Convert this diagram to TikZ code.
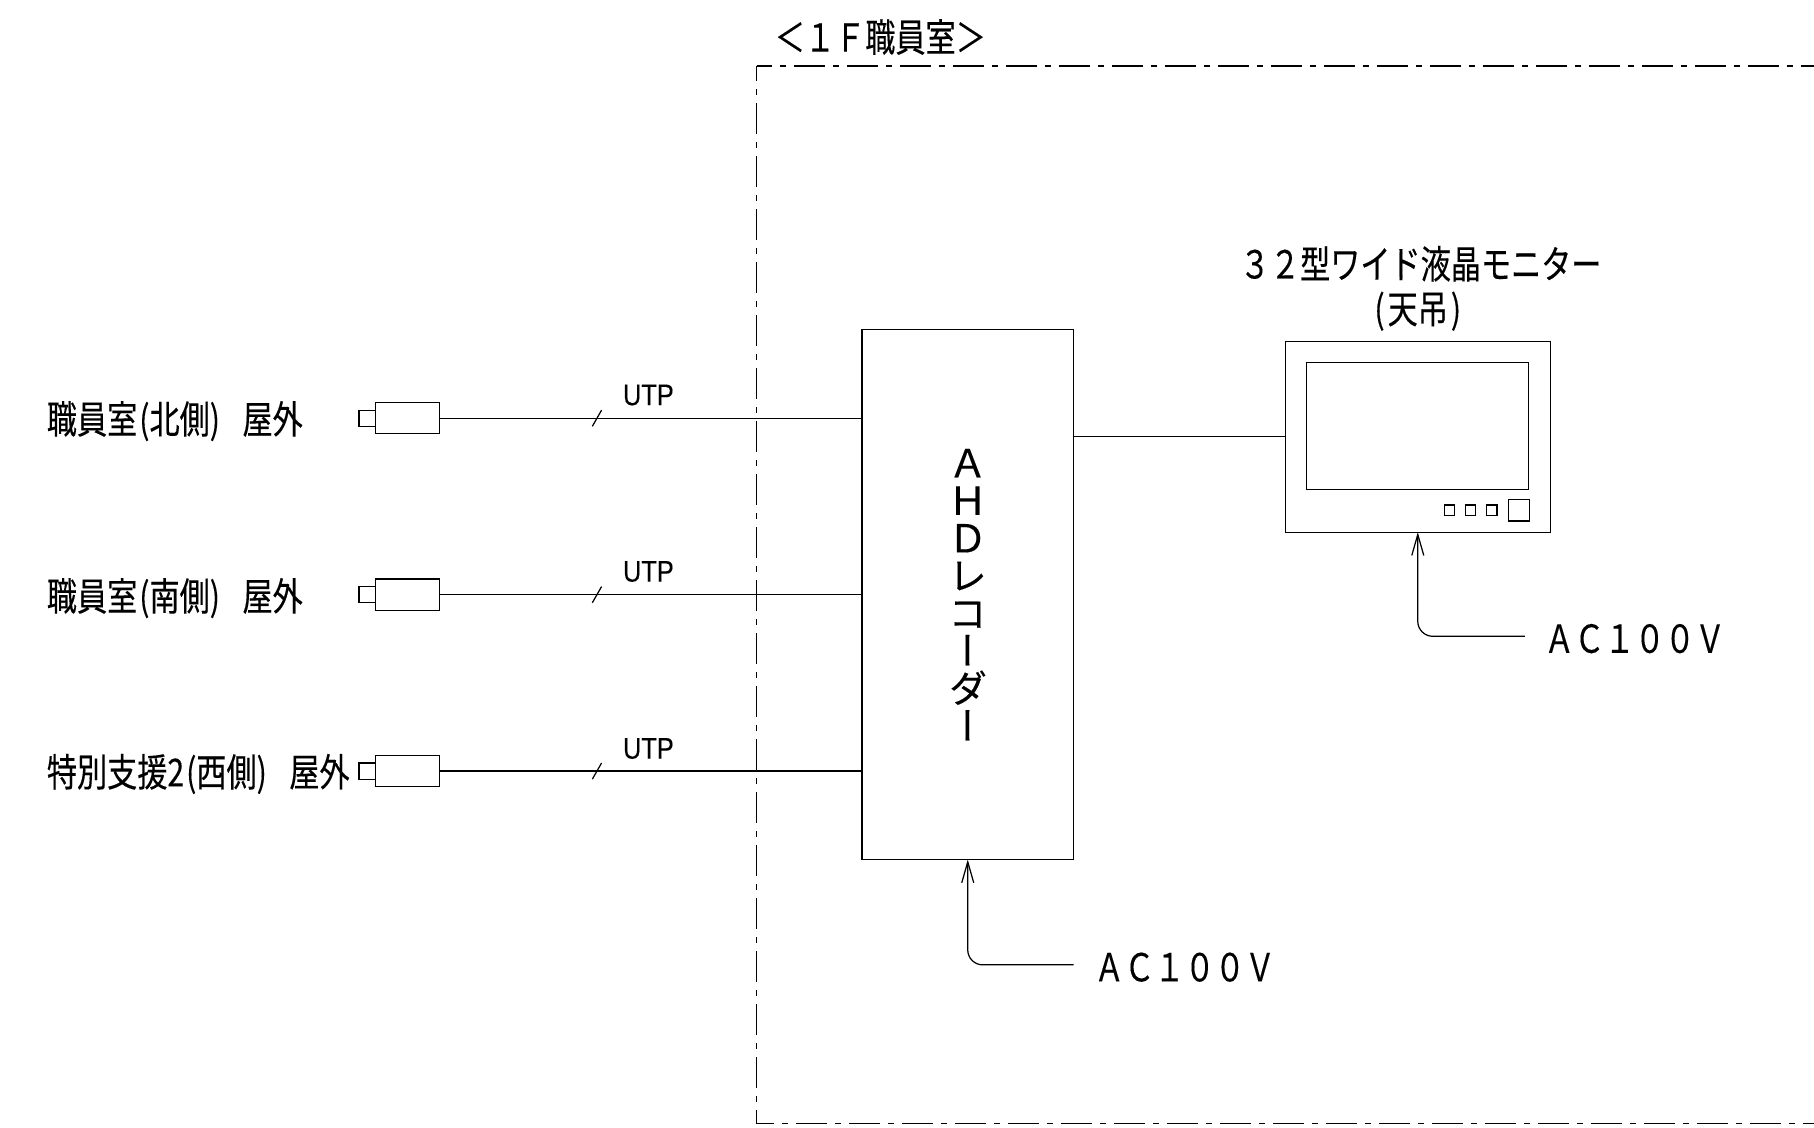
\documentclass[tikz,border=0pt]{standalone}
\usepackage{fontspec}
\usetikzlibrary{arrows.meta}
\newfontfamily\cjk[FakeStretch=0.78,FakeBold=0.25]{Noto Sans CJK JP}
\newfontfamily\cjkvert[RawFeature={+vert},FakeBold=0.25]{Noto Sans CJK JP}
\newfontfamily\utpfont[FakeStretch=0.85,FakeBold=0.15]{Liberation Sans}

\begin{document}
\begin{tikzpicture}[x=0.02314cm,y=-0.02314cm,line width=0.7pt,node distance=3.53cm,
    >={Straight Barb[length=0.42cm,width=0.24cm]},
    main node/.style={draw,rectangle,inner sep=0pt,outer sep=0pt},
    cam body/.style={main node,fill=white,minimum width=1.285cm,minimum height=0.625cm},
    cam lens/.style={main node,minimum width=0.324cm,minimum height=0.324cm},
    small btn/.style={main node,minimum width=0.21cm,minimum height=0.21cm},
    jp text/.style={inner sep=0pt,font=\cjk\fontsize{22pt}{26pt}\selectfont},
    utp text/.style={inner sep=0pt,font=\utpfont\fontsize{17pt}{20pt}\selectfont},
    room line/.style={dash pattern=on 0.62cm off 0.16cm on 0.12cm off 0.16cm,dash phase=0.31cm}]
    \useasboundingbox (0,0) rectangle (1568,975);

    \coordinate (roomNE) at (1568,57);
    \coordinate (roomNW) at (654,57);
    \coordinate (roomSW) at (654,971);
    \coordinate (roomSE) at (1568,971);
    \draw[room line] (roomNW) -- (roomNE);
    \draw[room line] (roomNW) -- (roomSW) -- (roomSE);
    \node[jp text] (room) at (761,32) {＜１Ｆ職員室＞};

    \node[main node,minimum width=4.235cm,minimum height=10.6cm] (rec) at (836.5,514) {};
    \node[inner sep=0pt,align=center,font=\cjkvert\fontsize{22pt}{21.4pt}\selectfont] (rectext) at (rec.center) {Ａ\\Ｈ\\Ｄ\\レ\\コ\\ー\\ダ\\ー};

    \node[cam body] (cam1) at (352,361.5) {};
    \node[cam body] (cam2) [below of=cam1] {};
    \node[cam body] (cam3) [below of=cam2] {};
    \node[cam lens,anchor=east] (lens1) at (cam1.west) {};
    \node[cam lens,anchor=east] (lens2) at (cam2.west) {};
    \node[cam lens,anchor=east] (lens3) at (cam3.west) {};

    \node[jp text,anchor=west] (name1) at (40,364) {職員室\hspace{0.04cm}(北側)\hspace{0.45cm}屋外};
    \node[jp text,anchor=west] (name2) at (40,517) {職員室\hspace{0.04cm}(南側)\hspace{0.45cm}屋外};
    \node[jp text,anchor=west] (name3) at (40,669) {特別支援2\hspace{0.04cm}(西側)\hspace{0.45cm}屋外};

    \node[utp text] (utp1) at (560.5,341.5) {UTP};
    \node[utp text] (utp2) at (560.5,494) {UTP};
    \node[utp text] (utp3) at (560.5,647) {UTP};

    \node[main node,minimum width=5.3cm,minimum height=3.82cm] (mon) at (1225.5,377.5) {};
    \node[main node,minimum width=4.44cm,minimum height=2.545cm] (screen) at (1225.5,368) {};
    \node[main node,minimum width=0.43cm,minimum height=0.43cm] (btn4) at (1313,441) {};
    \node[small btn] (btn1) at (1253,441) {};
    \node[small btn] (btn2) at (1271,441) {};
    \node[small btn] (btn3) at (1289.5,441) {};
    \node[jp text] (montext) at (1228,228) {３２型ワイド液晶モニター};
    \node[jp text] (monhang) at (1225.5,269) {(\hspace{0.06cm}天吊\hspace{0.06cm})};

    \node[jp text] (acmon) at (1413,552) {ＡＣ１００Ｖ};
    \node[jp text] (acrec) at (1024,836) {ＡＣ１００Ｖ};
    \coordinate (acmonend) at (1318,550);
    \coordinate (acrecend) at (928,834);

    \path
        (cam1) edge (cam1 -| rec.west)
        (cam2) edge (cam2 -| rec.west)
        (cam3) edge (cam3 -| rec.west)
        (mon.west) edge (mon.west -| rec.east)
        ;

    \coordinate (tick1) at (516,361.5);
    \coordinate (tick2) at (516,514);
    \coordinate (tick3) at (516,666.5);
    \draw ([shift={(-4,7)}]tick1) -- ([shift={(4,-7)}]tick1);
    \draw ([shift={(-4,7)}]tick2) -- ([shift={(4,-7)}]tick2);
    \draw ([shift={(-4,7)}]tick3) -- ([shift={(4,-7)}]tick3);

    \draw[->,rounded corners=0.3cm] (acmonend) -| (mon.south);
    \draw[->,rounded corners=0.3cm] (acrecend) -| (rec.south);
\end{tikzpicture}
\end{document}
